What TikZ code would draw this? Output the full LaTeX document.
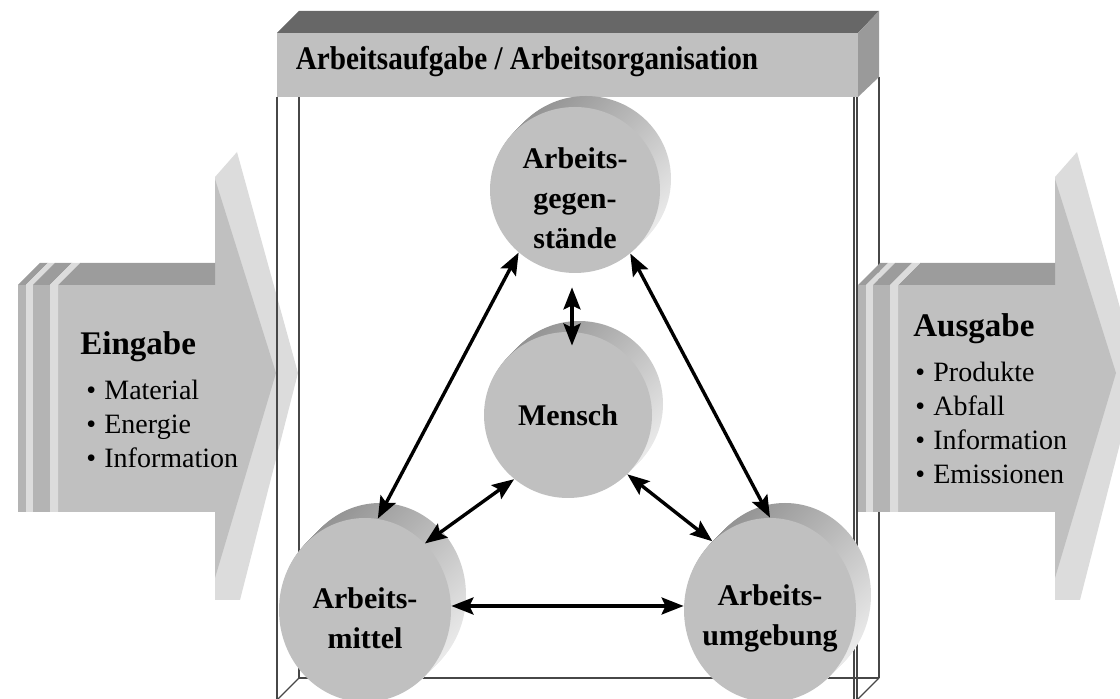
\documentclass[tikz,border=0pt]{standalone}
\usepackage{fontspec}
\setmainfont{Liberation Serif}
\usepackage{tikz}
\usetikzlibrary{positioning, arrows.meta, shapes.geometric}
\definecolor{silver}{HTML}{C0C0C0}
\definecolor{lightface}{HTML}{DCDCDC}
\definecolor{darkface}{HTML}{9C9C9C}
\definecolor{slabgray}{HTML}{B4B4B4}
\definecolor{bartop}{HTML}{676767}
\definecolor{barside}{HTML}{9A9A9A}

\begin{document}
\begin{tikzpicture}[
    x=0.5pt, y=-0.5pt,
    frame/.style={draw=black!72, line width=0.7pt},
    rim/.style={top color=black!42, bottom color=black!8, shading angle=45},
    disc/.style={ellipse, fill=silver, inner sep=0pt},
    disctext/.style={align=center, inner sep=0pt, font=\bfseries\fontsize{15}{20}\selectfont},
    titletext/.style={inner sep=0pt, xscale=0.885, font=\bfseries\fontsize{16.5}{18}\selectfont},
    head/.style={anchor=base west, inner sep=0pt, font=\bfseries\fontsize{16.5}{18}\selectfont},
    item/.style={anchor=base west, inner sep=0pt, font=\fontsize{14}{16}\selectfont},
    link/.style={{Stealth[length=11pt, width=8.5pt, inset=2pt]}-{Stealth[length=11pt, width=8.5pt, inset=2pt]}, line width=1.7pt}
]
\clip (0,0) rectangle (1120,699);

% back right edge of the box (behind the output arrow)
\draw[frame] (879,77) -- (879,678);

% input and output arrows
\foreach \dx in {0,840} {
\begin{scope}[shift={(\dx,0)}]
    \fill[lightface] (215,177) -- (237,152) -- (298,373) -- (240,600) -- (215,600) -- cycle;
    \fill[silver] (58,285) -- (215,285) -- (215,179) -- (276,373) -- (215,578) -- (215,512) -- (58,512) -- cycle;
    \fill[darkface] (58,285) -- (80,263) -- (215,263) -- (215,285) -- cycle;
    % slabs at the back
    \fill[slabgray] (18,285) rectangle (26,512);
    \fill[darkface] (18,285) -- (40,263) -- (48,263) -- (26,285) -- cycle;
    \fill[lightface] (26,285) -- (48,263) -- (55,263) -- (33,285) -- (33,512) -- (26,512) -- cycle;
    \fill[slabgray] (33,285) rectangle (50,512);
    \fill[darkface] (33,285) -- (55,263) -- (72,263) -- (50,285) -- cycle;
    \fill[lightface] (50,285) -- (72,263) -- (80,263) -- (58,285) -- (58,512) -- (50,512) -- cycle;
\end{scope}
}

% open box
\draw[frame] (299,97) -- (299,678) -- (879,678);
\draw[frame] (299,678) -- (277,700);
\draw[frame] (879,678) -- (857,700);
\draw[frame] (277,97) -- (277,700);
\draw[frame] (854,97) -- (854,700);
\draw[frame] (857,97) -- (857,700);

% title bar
\fill[bartop] (277,33) -- (299,11) -- (879,11) -- (858,33) -- cycle;
\fill[barside] (858,33) -- (879,11) -- (879,77) -- (858,97) -- cycle;
\fill[silver] (277,33) rectangle (858,97);
\node[titletext] (org) at (527,62) {Arbeitsaufgabe / Arbeitsorganisation};

% discs
\foreach \k in {11,10,...,1}
    \shade[rim] (575+\k,190-\k) ellipse [x radius=85, y radius=83];
\node[disc, minimum width=85pt, minimum height=83pt] (gegen) at (575,190) {};
\node[disctext] (gegentxt) at ([yshift=-4pt]gegen.center) {Arbeits-\\gegen-\\stände};

\foreach \k in {11,10,...,1}
    \shade[rim] (568+\k,415-\k) ellipse [x radius=84, y radius=83];
\node[disc, minimum width=84pt, minimum height=83pt] (mensch) at (568,415) {};
\node[disctext] (menschtxt) at (mensch.center) {Mensch};

\foreach \k in {15,14,...,1}
    \shade[rim] (365+\k,610-\k) ellipse [x radius=86, y radius=92];
\node[disc, minimum width=86pt, minimum height=92pt] (mittel) at (365,610) {};
\node[disctext] (mitteltxt) at ([yshift=-4pt]mittel.center) {Arbeits-\\mittel};

\foreach \k in {15,14,...,1}
    \shade[rim] (770+\k,610-\k) ellipse [x radius=86, y radius=92];
\node[disc, minimum width=86pt, minimum height=92pt] (umgeb) at (770,610) {};
\node[disctext] (umgebtxt) at ([yshift=-4pt]umgeb.center) {Arbeits-\\umgebung};

% relations
\draw[link] (gegen.228) -- (mittel.82);
\draw[link] (gegen.311) -- (umgeb.90);
\draw[link] ([xshift=-1.5pt, yshift=-7pt]gegen.south) -- ([xshift=2pt, yshift=-7pt]mensch.north);
\draw[link] (mensch.230) -- (mittel.48);
\draw[link] (mensch.315) -- (umgeb.130);
\draw[link] ([yshift=2pt]mittel.east) -- ([yshift=2pt]umgeb.west);

% Eingabe
\node[head] (ein) at (80,355) {Eingabe};
\foreach \i/\t in {1/Material, 2/Energie, 3/Information} {
    \node[item] (ein\i) at (86, 366+34*\i) {\makebox[9pt][l]{•}\t};
}

% Ausgabe
\node[head] (aus) at (913,337) {Ausgabe};
\foreach \i/\t in {1/Produkte, 2/Abfall, 3/Information, 4/Emissionen} {
    \node[item] (aus\i) at (915, 348+34*\i) {\makebox[9pt][l]{•}\t};
}

\end{tikzpicture}
\end{document}
